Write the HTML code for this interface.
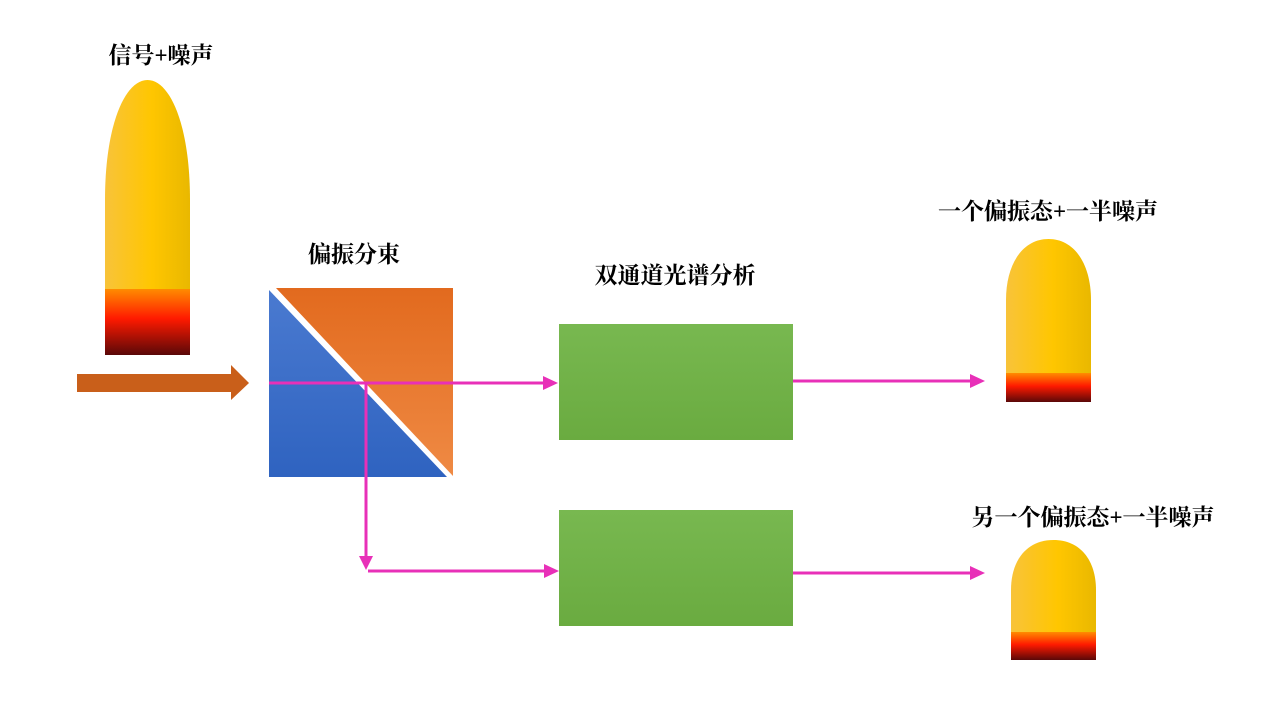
<!DOCTYPE html>
<html><head><meta charset="utf-8"><style>
html,body{margin:0;padding:0;background:#fff;width:1280px;height:720px;overflow:hidden}
svg text{font-family:"Liberation Serif","Noto Serif CJK SC",serif;font-weight:bold;font-size:23px;fill:#000;text-anchor:middle}
</style></head><body>
<svg width="1280" height="720" viewBox="0 0 1280 720" xmlns="http://www.w3.org/2000/svg">
<defs>
<linearGradient id="y" x1="0" x2="1" y1="0" y2="0"><stop offset="0" stop-color="#f8c33a"/><stop offset="0.55" stop-color="#ffc600"/><stop offset="1" stop-color="#e9b800"/></linearGradient>
<linearGradient id="r" x1="0" x2="0" y1="0" y2="1"><stop offset="0" stop-color="#ff8c00"/><stop offset="0.45" stop-color="#ff1a00"/><stop offset="1" stop-color="#5a0808"/></linearGradient>
<linearGradient id="g" x1="0" x2="0" y1="0" y2="1"><stop offset="0" stop-color="#78b850"/><stop offset="1" stop-color="#6aab40"/></linearGradient>
<linearGradient id="o" x1="0" x2="0" y1="0" y2="1"><stop offset="0" stop-color="#e26a1e"/><stop offset="1" stop-color="#ef8a44"/></linearGradient>
<linearGradient id="b" x1="0" x2="0" y1="0" y2="1"><stop offset="0" stop-color="#4a7ad0"/><stop offset="1" stop-color="#2f63c0"/></linearGradient>
</defs>
<text x="161" y="63">信号+噪声</text>
<text x="354" y="262">偏振分束</text>
<text x="675" y="283">双通道光谱分析</text>
<text x="1048" y="219">一个偏振态+一半噪声</text>
<text x="1093" y="525">另一个偏振态+一半噪声</text>

<path d="M105 289 V200 C105 125 125 80 147.5 80 C170 80 190 125 190 200 V289 Z" fill="url(#y)"/>
<rect x="105" y="289" width="85" height="66" fill="url(#r)"/>
<path d="M1006 373 V300 C1006 265 1022 239 1048.5 239 C1075 239 1091 265 1091 300 V373 Z" fill="url(#y)"/>
<rect x="1006" y="373" width="85" height="29" fill="url(#r)"/>
<path d="M1011 632 V590 C1011 560 1027 540 1053.5 540 C1080 540 1096 560 1096 590 V632 Z" fill="url(#y)"/>
<rect x="1011" y="632" width="85" height="28" fill="url(#r)"/>

<path d="M77 374 H231 V365 L249 383 L231 400 V392 H77 Z" fill="#c95f1a"/>

<polygon points="276,288 453,288 453,476" fill="url(#o)"/>
<polygon points="269,290 269,477 447,477" fill="url(#b)"/>

<rect x="559" y="324" width="234" height="116" fill="url(#g)"/>
<rect x="559" y="510" width="234" height="116" fill="url(#g)"/>

<g stroke="#e830b8" stroke-width="3" fill="none">
<line x1="269" y1="383" x2="545" y2="383"/>
<line x1="366" y1="383" x2="366" y2="558"/>
<line x1="368" y1="571" x2="546" y2="571"/>
<line x1="793" y1="381" x2="972" y2="381"/>
<line x1="793" y1="573" x2="972" y2="573"/>
</g>
<g fill="#e830b8">
<polygon points="543,376 558,383 543,390"/>
<polygon points="359,556 373,556 366,570"/>
<polygon points="544,564 559,571 544,578"/>
<polygon points="970,374 985,381 970,388"/>
<polygon points="970,566 985,573 970,580"/>
</g>
</svg>
</body></html>
